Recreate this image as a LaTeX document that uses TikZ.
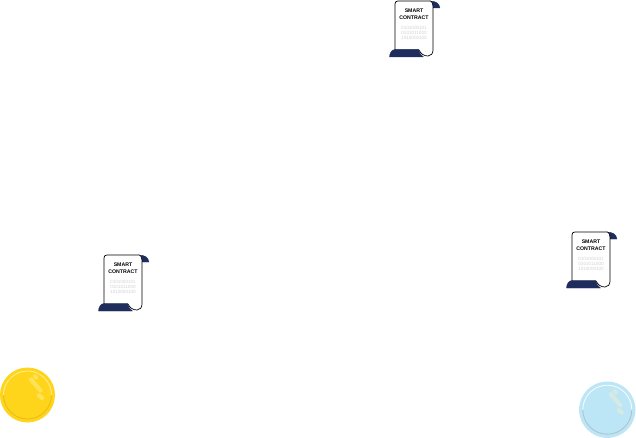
\documentclass[tikz,border=0pt]{standalone}
\usepackage{fontspec}
\setmainfont{Liberation Sans}
\definecolor{navy}{HTML}{1F2D5C}
\definecolor{bits}{HTML}{D2D2D2}
\definecolor{goldface}{HTML}{FFD51C}
\definecolor{goldring}{HTML}{E6BC1E}
\definecolor{goldlight}{HTML}{FFEC8C}
\definecolor{goldshine}{HTML}{FFE255}
\definecolor{iceface}{HTML}{BCE6F5}
\definecolor{icering}{HTML}{AFC4CC}
\definecolor{icelight}{HTML}{F2FBFE}
\definecolor{iceshine}{HTML}{D6E9E2}
\tikzset{
  x=1pt,y=-1pt,
  paperline/.style={draw=black,line width=0.7pt,fill=white,line join=round},
  curl/.style={draw=navy,fill=navy,line width=0.3pt,line join=round},
  title/.style={font=\fontsize{5.2}{6.6}\selectfont\bfseries,align=center,inner sep=0pt},
  binary/.style={font=\fontsize{4.6}{4.6}\selectfont,text=bits,align=center,inner sep=0pt},
  shine/.style={line width=4.2pt,line cap=round},
  pics/contract/.style={code={
    \path[curl] (34,0) .. controls (41,0) and (44,2) .. (45,7) -- (38,7) -- (38,3) -- cycle;
    \path[paperline] (3,0) -- (35,0) .. controls (37,0) and (38,3) .. (38,7)
      -- (38,49) .. controls (38,52.5) and (36,55) .. (33,55)
      .. controls (29,55) and (26,53) .. (24,49) -- (0,49) -- (0,3)
      .. controls (0,1) and (1,0) .. (3,0) -- cycle;
    \path[curl] (-5.5,56) .. controls (-5.5,52) and (-3,48.5) .. (0,48.5) -- (23.5,48.5)
      .. controls (24.5,52) and (26,54.5) .. (28.5,56) -- cycle;
    \node[title] at (19,13.2) {SMART\\CONTRACT};
    \node[binary] at (19,32) {0101000101\\0101011000\\1010000100};
  }}
}
\begin{document}
\begin{tikzpicture}
\useasboundingbox (0,0) rectangle (636,438);
\path (395,1) pic {contract};
\path (104,255) pic {contract};
\path (572,232) pic {contract};
% gold coin
\begin{scope}[shift={(27.5,395)}]
  \fill[goldface] (0,0) circle[radius=27.5];
  \draw[goldring,line width=0.9pt] (-24,0) arc[start angle=180,end angle=0,radius=24];
  \draw[goldlight,line width=0.9pt] (-24,0) arc[start angle=180,end angle=360,radius=24];
  \draw[goldshine,shine] (3.5,-15.5) -- (13,-4.5);
  \draw[goldshine,shine] (7.5,-18.5) -- (8.5,-17.5);
  \draw[goldshine,shine] (11.5,0.5) -- (14.5,3);
\end{scope}
% ice coin
\begin{scope}[shift={(607.3,409.7)}]
  \fill[iceface] (0,0) circle[radius=28.2];
  \draw[icering,line width=0.9pt] (-24.5,0) arc[start angle=180,end angle=0,radius=24.5];
  \draw[icelight,line width=0.9pt] (-24.5,0) arc[start angle=180,end angle=360,radius=24.5];
  \draw[iceshine,shine] (3.5,-15.5) -- (13,-4.5);
  \draw[iceshine,shine] (7.5,-18.5) -- (8.5,-17.5);
  \draw[iceshine,shine] (11.5,0.5) -- (14.5,3);
\end{scope}
\end{tikzpicture}
\end{document}
